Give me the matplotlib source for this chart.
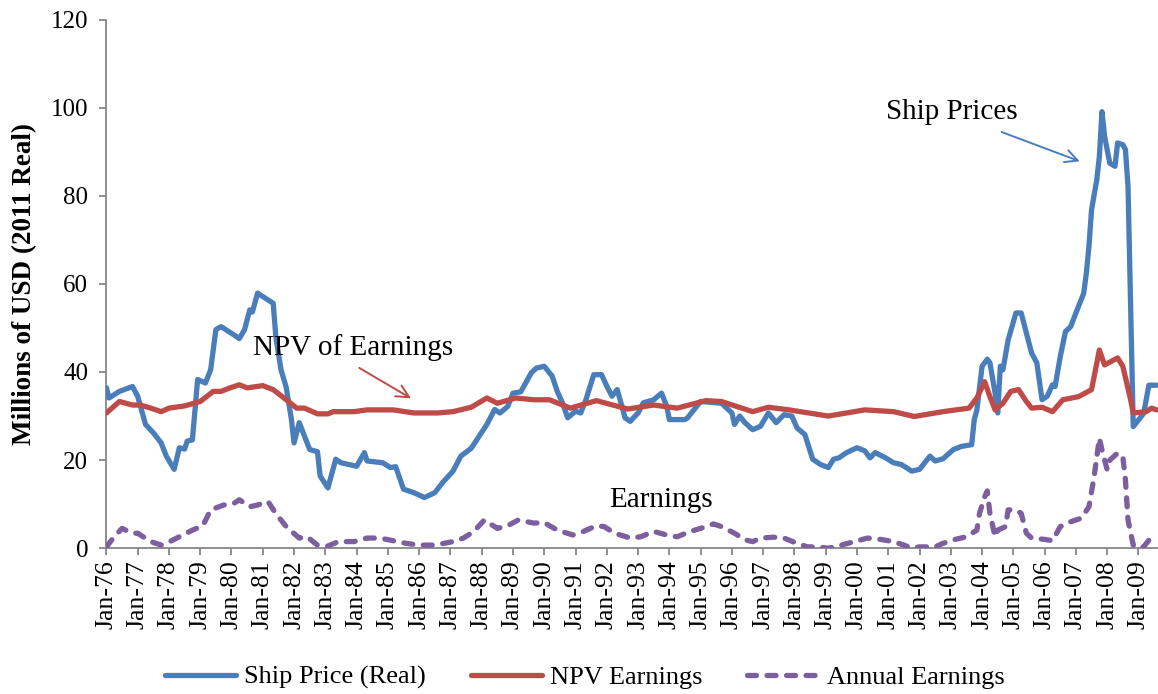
import matplotlib
matplotlib.use("Agg")
import matplotlib.pyplot as plt
import numpy as np

# ---------------- data (month index since Jan-1976, value in USD millions) ----
ship_month = [0, 1, 5, 10, 12, 15, 18, 21, 23, 26, 28, 30, 31, 33, 35, 38, 40, 42, 44,
              49, 51, 53, 55, 56, 58, 64, 65, 67, 69, 71, 72, 74, 78, 81, 82, 85, 88, 90,
              96, 99, 100, 106, 109, 111, 114, 118, 122, 126, 129, 133, 136, 140, 143,
              146, 149, 151, 154, 156, 159, 163, 165, 168, 171, 173, 175, 177, 180, 182,
              184, 187, 190, 192, 194, 196, 198, 199, 201, 204, 206, 210, 213, 215, 216,
              222, 223, 225, 228, 236, 240, 241, 243, 245, 248, 251, 254, 257, 260, 263,
              265, 268, 271, 274, 277, 279, 281, 284, 288, 291, 293, 295, 299, 302, 305,
              309, 312, 316, 318, 321, 325, 328, 332, 333, 334, 336, 338, 339, 341, 342,
              343, 344, 346, 349, 351, 353, 355, 357, 359, 361, 363, 364, 366, 368, 370,
              372, 375, 376, 377, 378, 380, 381, 382, 383, 385, 387, 388, 390, 391, 392,
              394, 396, 398, 400, 403]
ship_value = [36.4, 34.1, 35.6, 36.7, 34.5, 28.1, 26.2, 23.9, 20.9, 17.9, 22.8, 22.5, 24.3,
              24.6, 38.3, 37.5, 40.5, 49.6, 50.3, 48.4, 47.6, 49.6, 54.1, 53.6, 57.9, 55.6,
              48.1, 40.5, 36.5, 29.2, 23.9, 28.5, 22.4, 21.9, 16.4, 13.7, 20.2, 19.4, 18.6,
              21.7, 19.8, 19.4, 18.3, 18.5, 13.4, 12.6, 11.5, 12.6, 14.9, 17.5, 20.9, 22.7,
              25.4, 28.1, 31.5, 30.7, 32.2, 35.2, 35.5, 39.8, 40.9, 41.3, 39.1, 35.6, 33.0,
              29.6, 31.1, 30.7, 33.7, 39.4, 39.4, 36.8, 34.5, 36.0, 31.8, 29.6, 28.8, 30.7,
              33.0, 33.7, 35.2, 32.2, 29.2, 29.2, 29.6, 31.1, 33.3, 32.9, 30.7, 28.1, 30.0,
              28.5, 26.9, 27.7, 30.7, 28.5, 30.3, 30.0, 27.3, 25.8, 20.2, 19.0, 18.3, 20.2,
              20.5, 21.7, 22.8, 22.1, 20.5, 21.7, 20.5, 19.4, 19.0, 17.5, 17.9, 20.9, 19.8,
              20.3, 22.4, 23.1, 23.5, 29.2, 31.4, 41.3, 42.9, 42.1, 35.2, 30.7, 41.3, 40.5,
              47.3, 53.4, 53.4, 48.8, 44.3, 42.1, 33.7, 34.5, 37.1, 36.7, 43.5, 49.2, 50.3,
              53.4, 57.9, 62.4, 68.5, 76.8, 83.6, 88.9, 99.1, 93.5, 87.4, 86.7, 92.0, 91.6,
              90.5, 82.1, 27.6, 29.1, 30.6, 37.0, 37.0]

npv_month = [0, 5, 10, 13, 17, 21, 24, 30, 36, 41, 44, 47, 51, 54, 60, 64, 69, 73, 76, 81,
             85, 87, 95, 100, 110, 118, 127, 133, 140, 146, 150, 157, 164, 170, 178, 188,
             200, 210, 219, 230, 236, 248, 254, 262, 277, 291, 302, 310, 321, 331, 334,
             337, 339, 341, 344, 347, 350, 353, 355, 359, 363, 367, 373, 378, 381, 383,
             388, 390, 393, 394, 399, 401, 403]
npv_value = [30.7, 33.3, 32.5, 32.5, 31.8, 31.0, 31.8, 32.3, 33.3, 35.6, 35.6, 36.3, 37.1,
             36.4, 36.9, 36.0, 33.7, 31.8, 31.8, 30.5, 30.5, 31.0, 31.0, 31.4, 31.4, 30.7,
             30.7, 31.0, 32.0, 34.1, 32.9, 34.1, 33.7, 33.7, 31.8, 33.5, 31.6, 32.5, 31.8,
             33.5, 33.3, 31.0, 32.0, 31.4, 30.0, 31.4, 31.0, 29.9, 31.0, 31.8, 34.1, 37.8,
             34.4, 31.4, 32.9, 35.6, 36.0, 33.3, 31.8, 32.0, 31.0, 33.7, 34.4, 36.0, 45.0,
             41.6, 43.2, 41.3, 33.7, 30.7, 31.0, 31.8, 31.4]

earn_month = [0, 3, 6, 10, 12, 17, 21, 25, 28, 33, 37, 40, 45, 49, 51, 55, 58, 62, 65, 69,
              74, 77, 81, 85, 89, 95, 100, 105, 110, 115, 120, 126, 133, 137, 141, 145,
              150, 154, 158, 164, 168, 173, 179, 183, 188, 191, 195, 201, 205, 210, 215,
              219, 224, 228, 233, 236, 241, 245, 248, 251, 256, 260, 265, 269, 273, 277,
              282, 287, 292, 297, 302, 306, 309, 312, 318, 321, 325, 330, 334, 335, 337,
              338, 339, 341, 342, 345, 346, 349, 351, 353, 355, 360, 363, 366, 370, 374,
              377, 379, 381, 382, 384, 385, 388, 390, 391, 392, 394, 396, 398, 401, 403]
earn_value = [0.3, 2.6, 4.5, 3.4, 3.4, 1.5, 0.7, 1.7, 2.6, 4.1, 5.1, 8.7, 9.8, 10.2, 11.0,
              9.4, 9.8, 10.6, 7.9, 4.9, 2.3, 2.6, 0.7, 0.5, 1.5, 1.5, 2.3, 2.3, 1.7, 1.1,
              0.7, 0.7, 1.5, 2.3, 3.8, 6.4, 4.5, 5.1, 6.4, 5.7, 5.8, 4.1, 3.0, 3.8, 5.1,
              4.9, 3.4, 2.3, 2.6, 3.8, 3.0, 2.6, 3.8, 4.5, 5.5, 4.9, 3.4, 1.9, 1.5, 2.3,
              2.5, 2.3, 1.1, 0.3, 0.3, 0.0, 0.7, 1.5, 2.3, 2.0, 1.5, 0.7, 0.0, 0.3, 0.3,
              1.1, 1.9, 2.6, 4.1, 7.9, 11.7, 13.0, 7.9, 2.6, 4.1, 4.9, 8.7, 8.7, 7.9, 3.4,
              2.3, 2.0, 1.7, 4.9, 6.0, 6.8, 9.4, 16.3, 25.0, 22.3, 17.8, 20.0, 21.6, 20.8,
              15.5, 6.4, 0.7, 0.0, 0.3, 2.6, 2.6]

tick_years = list(range(76, 100)) + list(range(0, 10))
tick_labels = ["Jan-%02d" % y for y in tick_years]
y_ticks = [0, 20, 40, 60, 80, 100, 120]

series_labels = ["Ship Price (Real)", "NPV Earnings", "Annual Earnings"]

# ---------------- styling ----------------
plt.rcParams['font.family'] = ['Liberation Serif', 'DejaVu Serif']
BLUE = '#4A7EBB'
RED = '#BE4B48'
PURPLE = '#7D5FA0'
GREY = '#868686'
LW = 3.8

fig = plt.figure(figsize=(11.58, 6.94), dpi=100)
ax = fig.add_axes([106.4 / 1158, (694 - 548.2) / 694, (1158 - 106.4) / 1158, (548.2 - 19.6) / 694])

ax.plot(ship_month, ship_value, color=BLUE, lw=LW, solid_joinstyle='round',
        solid_capstyle='round', label=series_labels[0], zorder=3)
ax.plot(npv_month, npv_value, color=RED, lw=LW, solid_joinstyle='round',
        solid_capstyle='round', label=series_labels[1], zorder=4)
ax.plot(earn_month, earn_value, color=PURPLE, lw=LW, linestyle=(0, (1.7, 2.0)),
        dash_capstyle='round', label=series_labels[2], zorder=3)

ax.set_xlim(0, 403.5)
ax.set_ylim(0, 120)
ax.set_yticks(y_ticks)
ax.set_yticklabels([str(v) for v in y_ticks], fontsize=18)
xt = [12 * i for i in range(len(tick_labels))]
ax.set_xticks(xt)
ax.set_xticklabels(tick_labels, rotation=90, fontsize=18.5)

for s in ['top', 'right']:
    ax.spines[s].set_visible(False)
for s in ['left', 'bottom']:
    ax.spines[s].set_color(GREY)
    ax.spines[s].set_linewidth(1.3)
ax.tick_params(axis='both', colors=GREY, labelcolor='black', length=5, width=1.3,
               direction='out')
ax.tick_params(axis='y', pad=8)
ax.tick_params(axis='x', pad=4)

ax.set_ylabel("Millions of USD (2011 Real)", fontsize=19.5, fontweight='bold')
ax.yaxis.set_label_coords(-0.066, 0.5)

# annotations
ax.text(299, 97.5, "Ship Prices", fontsize=21, va='baseline', ha='left')
ax.annotate("", xy=(374.5, 87.6), xytext=(342.5, 94.7),
            arrowprops=dict(arrowstyle='->,head_length=0.9,head_width=0.45',
                            color=BLUE, lw=1.4))
ax.text(56.2, 43.9, "NPV of Earnings", fontsize=21, va='baseline', ha='left')
ax.annotate("", xy=(117.8, 33.7), xytext=(96.1, 41.25),
            arrowprops=dict(arrowstyle='->,head_length=0.9,head_width=0.45',
                            color=RED, lw=1.4))
ax.text(193, 9.4, "Earnings", fontsize=21, va='baseline', ha='left')

leg = fig.legend(loc='center', bbox_to_anchor=(0.505, 0.024), ncol=3, frameon=False,
                 fontsize=19, handlelength=2.7, handletextpad=0.3, columnspacing=1.7)

fig.savefig("out.png", dpi=100)
